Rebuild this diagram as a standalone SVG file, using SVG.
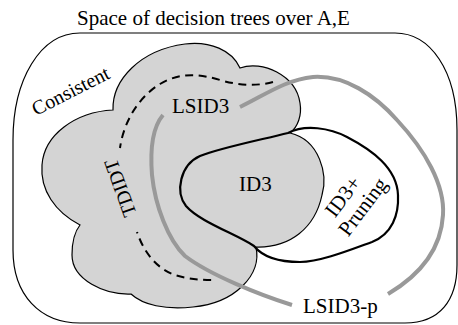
<svg xmlns="http://www.w3.org/2000/svg" width="458" height="325" viewBox="0 0 458 325" font-family="'Liberation Serif', 'Times New Roman', 'DejaVu Serif', serif">
<style>
.lbl{font-family:'Liberation Serif','Times New Roman','DejaVu Serif',serif;font-size:21px;fill:#000}
.thin{fill:none;stroke:#000;stroke-width:1.2}
.bold{fill:none;stroke:#000;stroke-width:2.2}
.gray{fill:none;stroke:#999;stroke-width:4;stroke-linecap:butt}
.dash{fill:none;stroke:#000;stroke-width:2;stroke-dasharray:8 5.5}
</style>
<rect width="458" height="325" fill="#fff"/>
<g id="space">
<path class="thin" d="M80,33 L395,33 C430,33 457,70 457,130 L457,265 C457,300 440,323 405,323 L80,323 C40,323 13,295 13,250 L13,140 C13,80 40,33 80,33 Z"/>
<text class="lbl" x="77" y="25">Space of decision trees over A,E</text>
</g>
<g id="consistent">
<path d="M113,110 C112,80 140,50 185,44 C210,41 232,50 240,68 C262,60 296,75 300,103 C302,115 298,127 290,133 C320,140 328,175 322,195 C315,228 290,248 256,247 C262,275 235,303 193,307 C165,310 143,305 131,294 C105,295 72,280 72,255 C72,240 76,230 80,225 C55,212 40,190 42,165 C44,135 75,112 113,110 Z" fill="#d4d4d4" stroke="#000" stroke-width="1.2"/>
<text class="lbl" style="font-size:20px" transform="translate(36,116) rotate(-27)">Consistent</text>
</g>
<g id="id3pruning">
<path class="bold" d="M288,133 C260,140 220,148 200,156 C180,165 175,192 186,206 C200,222 236,234 254,246 C262,256 278,262 300,262 C320,262 350,250 372,242 C392,234 399,215 398,195 C397,168 372,150 347,137 C330,128 305,124 288,133 Z"/>
<text class="lbl" x="239" y="191">ID3</text>
<g transform="translate(353,203) rotate(-53)">
<text class="lbl" x="-1" y="-5" text-anchor="middle">ID3+</text>
<text class="lbl" x="3" y="17" text-anchor="middle">Pruning</text>
</g>
</g>
<g id="connectors">
<path class="gray" d="M240,107 C265,95 285,80 313,77 C345,75 375,95 397,120 C425,150 445,185 443,215 C441,250 420,275 388,294"/>
<path class="gray" d="M163,115 C152,128 150,150 152,175 C155,205 168,240 185,256 C210,275 260,295 292,305"/>
<path class="dash" d="M273,82 C258,86 240,86 220,80 C200,74 180,72 160,84 C140,96 124,120 120,148"/>
<path class="dash" style="stroke-dashoffset:6.5" d="M137,232 C143,250 155,268 175,275 C188,279 200,280 213,280"/>
</g>
<g id="labels">
<text class="lbl" x="172" y="113">LSID3</text>
<text class="lbl" x="303" y="313">LSID3-p</text>
<text class="lbl" style="font-size:20px" text-anchor="middle" transform="translate(120,188) rotate(-110)" y="7">TDIDT</text>
</g>
</svg>
